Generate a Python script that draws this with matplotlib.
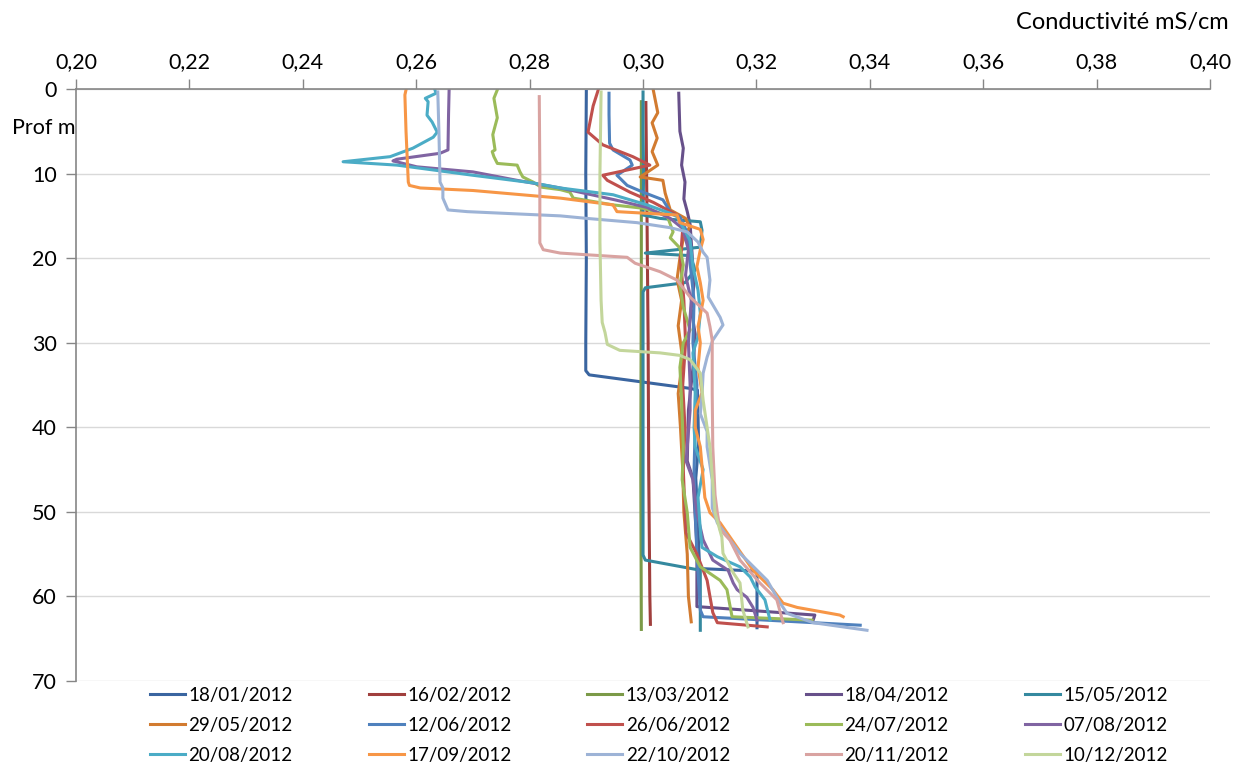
import matplotlib.pyplot as plt
from matplotlib.ticker import FixedLocator

plt.rcParams['font.family'] = ['Lato', 'DejaVu Sans']

dates = ["18/01/2012", "16/02/2012", "13/03/2012", "18/04/2012", "15/05/2012",
         "29/05/2012", "12/06/2012", "26/06/2012", "24/07/2012", "07/08/2012",
         "20/08/2012", "17/09/2012", "22/10/2012", "20/11/2012", "10/12/2012"]
colors = ["#3A65A0", "#A03F3D", "#7B9A48", "#67508A", "#35899F",
          "#D27B30", "#4F81BD", "#C0504D", "#9BBB59", "#8064A2",
          "#4BACC6", "#F79646", "#9DB3D6", "#D9A3A1", "#C3D69B"]

# conductivite (mS/cm) et profondeur (m) de chaque profil
c_1801 = [0.2900, 0.2899, 0.2900, 0.2899, 0.2899, 0.2905, 0.3083, 0.3096, 0.3098, 0.3093,
          0.3096, 0.3098, 0.3100, 0.3201, 0.3201]
d_1801 = [0.3, 10, 20, 30, 33.3, 33.8, 35.4, 35.6, 42, 46, 50, 54, 56.7, 57.0, 63.7]

c_1602 = [0.3005, 0.3007, 0.3009, 0.3010, 0.3012, 0.3013]
d_1602 = [1.6, 15, 30, 45, 60, 63.3]

c_1303 = [0.2997, 0.2997, 0.2996, 0.2997]
d_1303 = [1.5, 20, 45, 63.9]

c_1804 = [0.3063, 0.3065, 0.3071, 0.3068, 0.3074, 0.3072, 0.3078, 0.3083, 0.3086, 0.3090,
          0.3085, 0.3092, 0.3088, 0.3080, 0.3078, 0.3088, 0.3095, 0.3095, 0.3303, 0.3300]
d_1804 = [0.5, 5, 7, 9, 11, 13, 14.5, 16, 19, 23, 26, 29, 33, 38, 44, 46, 54, 61.2, 62.2, 62.8]

c_1505 = [0.3000, 0.3000, 0.3001, 0.3000, 0.3030, 0.3101, 0.3104, 0.3101, 0.3004, 0.3083,
          0.3092, 0.3074, 0.3004, 0.3000, 0.3000, 0.3000, 0.3004, 0.3101, 0.3101]
d_1505 = [0.35, 5, 10, 14.9, 15.3, 15.7, 16.7, 18.7, 19.4, 19.7,
          21.4, 22.9, 23.5, 24.0, 40, 55.1, 55.7, 56.9, 64.0]

c_2905 = [0.3018, 0.3026, 0.3016, 0.3025, 0.3016, 0.3026, 0.2995, 0.3035, 0.3039, 0.3048,
          0.3075, 0.3082, 0.3070, 0.3065, 0.3060, 0.3068, 0.3062, 0.3070, 0.3062, 0.3066,
          0.3070, 0.3072, 0.3078, 0.3080, 0.3085]
d_2905 = [0.1, 2.8, 4.0, 5.8, 7.4, 9.0, 10.4, 10.8, 12.3, 14.3,
          15.3, 16.3, 18, 20, 22.5, 25, 28, 32, 36, 40,
          45, 50, 55, 60, 63.0]

c_1206 = [0.2940, 0.2940, 0.2941, 0.2947, 0.2977, 0.2981, 0.2954, 0.2972, 0.3000, 0.3035,
          0.3048, 0.3065, 0.3078, 0.3082, 0.3090, 0.3088, 0.3095, 0.3092, 0.3090, 0.3092,
          0.3095, 0.3101, 0.3106, 0.3383]
d_1206 = [0.5, 3, 6.4, 7.2, 8.4, 9.0, 10.2, 11.4, 12.2, 13.1,
          14.5, 15.1, 17, 20, 25, 30, 35, 40, 45, 50,
          55, 61.6, 62.4, 63.4]

c_2606 = [0.2921, 0.2912, 0.2903, 0.2929, 0.2982, 0.3012, 0.2929, 0.2937, 0.2977, 0.3018,
          0.3060, 0.3070, 0.3066, 0.3072, 0.3075, 0.3070, 0.3074, 0.3071, 0.3074, 0.3076,
          0.3095, 0.3113, 0.3123, 0.3131, 0.3219]
d_2606 = [0.1, 2.0, 5.1, 6.6, 8.0, 9.0, 10.2, 10.8, 12.2, 13.4,
          14.9, 16.5, 20, 25, 30, 35, 40, 45, 50, 52.5,
          55.0, 58.1, 61.9, 63.1, 63.6]

c_2407 = [0.2743, 0.2737, 0.2743, 0.2735, 0.2739, 0.2734, 0.2737, 0.2743, 0.2778, 0.2783,
          0.2788, 0.2806, 0.2820, 0.2854, 0.2871, 0.2877, 0.2947, 0.3000, 0.3042, 0.3053,
          0.3048, 0.3065, 0.3071, 0.3065, 0.3071, 0.3083, 0.3071, 0.3065, 0.3068, 0.3071,
          0.3069, 0.3078, 0.3083, 0.3101, 0.3136, 0.3148, 0.3157, 0.3298]
d_2407 = [0.1, 1.1, 3.4, 5.4, 7.2, 7.4, 8.0, 8.8, 9.0, 9.8,
          10.4, 11.0, 11.6, 11.9, 12.2, 12.9, 13.7, 14.1, 14.9, 16.9,
          17.6, 18.8, 20.8, 23.2, 25.8, 28.5, 30.0, 32.9, 36.8, 42.3,
          46.2, 50.1, 54.2, 56.5, 58.1, 59.2, 62.4, 62.8]

c_0708 = [0.2658, 0.2657, 0.2656, 0.2642, 0.2566, 0.2559, 0.2601, 0.2700, 0.2778, 0.2854,
          0.2950, 0.3007, 0.3048, 0.3070, 0.3080, 0.3075, 0.3085, 0.3080, 0.3083, 0.3083,
          0.3078, 0.3076, 0.3088, 0.3095, 0.3106, 0.3123, 0.3150, 0.3159, 0.3166, 0.3183,
          0.3194, 0.3201]
d_0708 = [0.1, 3, 7.2, 7.6, 8.3, 8.5, 9.2, 9.8, 10.8, 11.7,
          13.1, 14.0, 15.3, 16.5, 19, 22, 25, 30, 35, 38,
          42.3, 44, 46.2, 50.1, 53.3, 55.7, 56.9, 58.4, 59.2, 60.1,
          61.3, 62.8]

c_2008 = [0.2633, 0.2635, 0.2616, 0.2621, 0.2619, 0.2628, 0.2637, 0.2630, 0.2594, 0.2554,
          0.2471, 0.2566, 0.2700, 0.2806, 0.2854, 0.2947, 0.3007, 0.3048, 0.3060, 0.3083,
          0.3088, 0.3097, 0.3101, 0.3097, 0.3088, 0.3092, 0.3090, 0.3092, 0.3106, 0.3097,
          0.3101, 0.3104, 0.3131, 0.3171, 0.3189, 0.3198, 0.3215, 0.3224]
d_2008 = [0.1, 0.5, 1.1, 1.5, 3.1, 3.9, 5.1, 5.7, 7.0, 8.0,
          8.6, 9.0, 10.2, 11.1, 11.7, 12.5, 13.7, 14.7, 15.1, 17.9,
          21.0, 23.8, 26.5, 29.3, 31.2, 36, 40, 42.3, 45, 48.3,
          52.1, 54.2, 55.3, 56.5, 57.7, 58.9, 60.4, 62.8]

c_1709 = [0.2582, 0.2580, 0.2582, 0.2586, 0.2588, 0.2607, 0.2700, 0.2854, 0.2947, 0.2954,
          0.3060, 0.3065, 0.3101, 0.3106, 0.3101, 0.3095, 0.3101, 0.3106, 0.3097, 0.3101,
          0.3097, 0.3104, 0.3092, 0.3092, 0.3101, 0.3109, 0.3118, 0.3136, 0.3166, 0.3194,
          0.3229, 0.3247, 0.3272, 0.3347, 0.3353]
d_1709 = [0.1, 0.7, 5, 11.0, 11.4, 11.7, 12.0, 12.9, 13.7, 14.5,
          14.9, 15.8, 16.6, 17.8, 19.0, 21.0, 22.9, 25, 28.1, 30.0,
          32.9, 35.9, 38, 40, 42.3, 48.3, 50.1, 51.3, 54.2, 56.9,
          59.2, 60.8, 61.3, 62.2, 62.4]

c_2210 = [0.2638, 0.2640, 0.2642, 0.2647, 0.2647, 0.2656, 0.2690, 0.2854, 0.2901, 0.2989,
          0.3048, 0.3078, 0.3097, 0.3106, 0.3113, 0.3118, 0.3115, 0.3136, 0.3141, 0.3123,
          0.3113, 0.3106, 0.3104, 0.3101, 0.3113, 0.3113, 0.3122, 0.3122, 0.3131, 0.3171,
          0.3219, 0.3242, 0.3254, 0.3300, 0.3395]
d_2210 = [0.35, 5, 11.0, 11.7, 12.9, 14.3, 14.5, 15.0, 15.3, 15.8,
          16.4, 16.9, 18.1, 19.3, 19.9, 22.6, 24.6, 27.0, 27.9, 29.7,
          31.7, 33.6, 36.3, 38.4, 40.5, 42.3, 46.2, 49.5, 51.3, 54.9,
          58.1, 60.8, 62.0, 63.1, 64.0]

c_2011 = [0.2817, 0.2818, 0.2818, 0.2824, 0.2854, 0.2972, 0.2986, 0.3030, 0.3060, 0.3083,
          0.3113, 0.3118, 0.3122, 0.3122, 0.3123, 0.3127, 0.3131, 0.3136, 0.3153, 0.3171,
          0.3206, 0.3236, 0.3247]
d_2011 = [0.9, 10, 18.2, 19.0, 19.4, 19.9, 20.6, 21.6, 22.6, 24.6,
          26.5, 28.1, 29.7, 36.0, 42.3, 48, 50.1, 52.1, 53.3, 55.7,
          58.4, 60.4, 63.1]

c_1012 = [0.2926, 0.2924, 0.2924, 0.2926, 0.2928, 0.2933, 0.2937, 0.2959, 0.3030, 0.3065,
          0.3083, 0.3101, 0.3106, 0.3118, 0.3127, 0.3139, 0.3141, 0.3159, 0.3171, 0.3176,
          0.3185]
d_1012 = [0.35, 10, 18.1, 25, 27.6, 28.8, 30.2, 30.9, 31.2, 31.5,
          32.0, 33.6, 36.8, 42.3, 50.1, 53.0, 54.9, 57.2, 58.4, 61.6,
          63.6]

profiles = [(c_1801, d_1801), (c_1602, d_1602), (c_1303, d_1303), (c_1804, d_1804),
            (c_1505, d_1505), (c_2905, d_2905), (c_1206, d_1206), (c_2606, d_2606),
            (c_2407, d_2407), (c_0708, d_0708), (c_2008, d_2008), (c_1709, d_1709),
            (c_2210, d_2210), (c_2011, d_2011), (c_1012, d_1012)]

x_ticks = [0.20, 0.22, 0.24, 0.26, 0.28, 0.30, 0.32, 0.34, 0.36, 0.38, 0.40]
y_ticks = [0, 10, 20, 30, 40, 50, 60, 70]

fig = plt.figure(figsize=(12.34, 7.64), dpi=100)
ax = fig.add_axes([0.0616, 0.1086, 0.919, 0.7749])

lines = []
for (c, d), col, lab in zip(profiles, colors, dates):
    ln, = ax.plot(c, d, color=col, lw=2.2, label=lab, solid_joinstyle='round')
    lines.append(ln)

ax.set_xlim(0.20, 0.40)
ax.set_ylim(70, 0)
ax.xaxis.tick_top()
ax.xaxis.set_major_locator(FixedLocator(x_ticks))
ax.yaxis.set_major_locator(FixedLocator(y_ticks))
ax.set_xticklabels([f"{v:.2f}".replace(".", ",") for v in x_ticks])
ax.tick_params(axis='both', labelsize=15.5, colors='#868686', labelcolor='black',
               length=7, width=1)
ax.tick_params(axis='x', pad=5)
ax.tick_params(axis='y', pad=7)

ax.grid(axis='y', color='#D9D9D9', lw=1)
ax.set_axisbelow(True)
for s in ['right', 'bottom']:
    ax.spines[s].set_visible(False)
for s in ['top', 'left']:
    ax.spines[s].set_color('#868686')
    ax.spines[s].set_linewidth(1.2)

fig.text(0.9955, 0.971, "Conductivité mS/cm", ha='right', va='center', fontsize=17)
fig.text(0.061, 0.833, "Prof m", ha='right', va='center', fontsize=15.5)

# legende lue ligne par ligne : matplotlib remplit par colonnes
order = [i + 5 * r for i in range(5) for r in range(3)]
ax.legend([lines[k] for k in order], [dates[k] for k in order],
          loc='upper center', bbox_to_anchor=(0.534, 0.1106), bbox_transform=fig.transFigure,
          ncol=5, frameon=False, fontsize=13.5, handlelength=1.85, handletextpad=0.2,
          columnspacing=4.05, labelspacing=0.68, borderaxespad=0)

fig.savefig("out.png", dpi=100)
